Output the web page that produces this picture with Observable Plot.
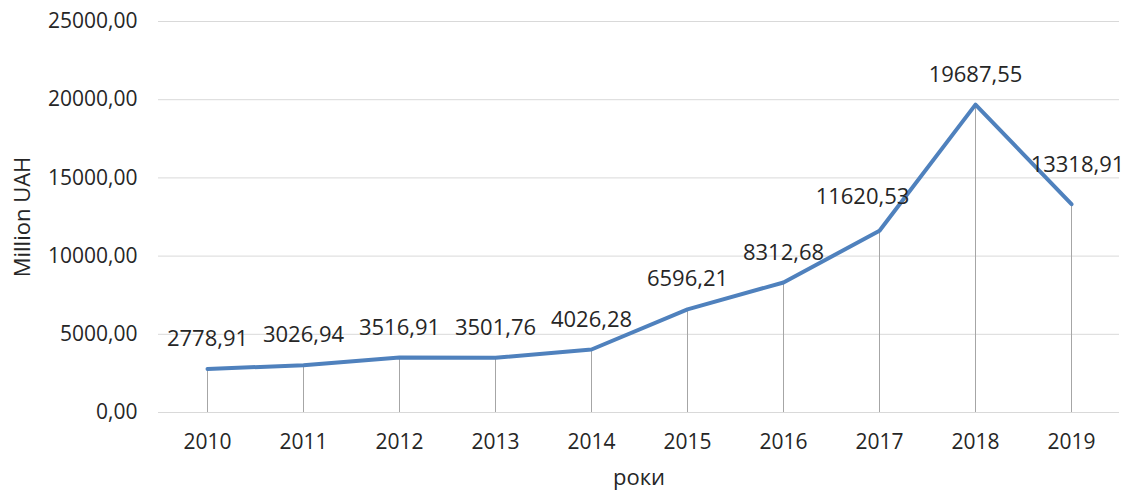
<!DOCTYPE html>
<html>
<head>
<meta charset="utf-8">
<script src="https://cdn.jsdelivr.net/npm/d3@7"></script>
<script src="https://cdn.jsdelivr.net/npm/@observablehq/plot@0.6"></script>
<style>
html,body{margin:0;padding:0;background:#fff;}
svg{font-family:"Open Sans",sans-serif;}
</style>
</head>
<body>
<div id="chart"></div>
<script>
const years = ["2010","2011","2012","2013","2014","2015","2016","2017","2018","2019"];
const values = [2778.91,3026.94,3516.91,3501.76,4026.28,6596.21,8312.68,11620.53,19687.55,13318.91];
const yTicks = [0,5000,10000,15000,20000,25000];
const yTitle = "Million UAH";
const xTitle = "роки";

const fmt = v => v.toFixed(2).replace(".", ",");
const data = years.map((y, i) => ({year: y, value: values[i]}));
const special = ["2017", "2019"];

const chart = Plot.plot({
  width: 1130,
  height: 498,
  marginLeft: 158,
  marginRight: 11,
  marginTop: 21,
  marginBottom: 86,
  style: {fontFamily: "'Open Sans', sans-serif", fontSize: "20px", color: "#262626", background: "#fff"},
  x: {type: "point", domain: years, padding: 0.5, label: null},
  y: {domain: [0, 25000], ticks: yTicks, label: null},
  marks: [
    Plot.gridY(yTicks, {stroke: "#d9d9d9", strokeOpacity: 1, strokeWidth: 1}),
    Plot.axisY(yTicks, {tickSize: 0, tickPadding: 21, tickFormat: fmt, fontSize: 21, fill: "#262626"}),
    Plot.axisX({tickSize: 0, tickPadding: 22, fontSize: 21, fill: "#262626"}),
    Plot.ruleX(data, {x: "year", y1: 0, y2: "value", stroke: "#a6a6a6", strokeWidth: 1}),
    Plot.line(data, {x: "year", y: "value", stroke: "#4f81bd", strokeWidth: 4, strokeLinejoin: "round", curve: "linear"}),
    Plot.text(data.filter(d => !special.includes(d.year)), {x: "year", y: "value", text: d => fmt(d.value), dy: -30, fontSize: 22, fill: "#262626"}),
    Plot.text(data.filter(d => d.year === "2017"), {x: "year", y: "value", text: d => fmt(d.value), dx: -17, dy: -34, fontSize: 22, fill: "#262626"}),
    Plot.text(data.filter(d => d.year === "2019"), {x: "year", y: "value", text: d => fmt(d.value), dx: 6, dy: -39, fontSize: 22, fill: "#262626"}),
    Plot.text([xTitle], {frameAnchor: "bottom", dy: 72, fontSize: 22, fill: "#262626"}),
    Plot.text([yTitle], {frameAnchor: "left", textAnchor: "middle", dx: -136, rotate: -90, fontSize: 22, fill: "#262626"})
  ]
});
document.getElementById("chart").appendChild(chart);
</script>
</body>
</html>
